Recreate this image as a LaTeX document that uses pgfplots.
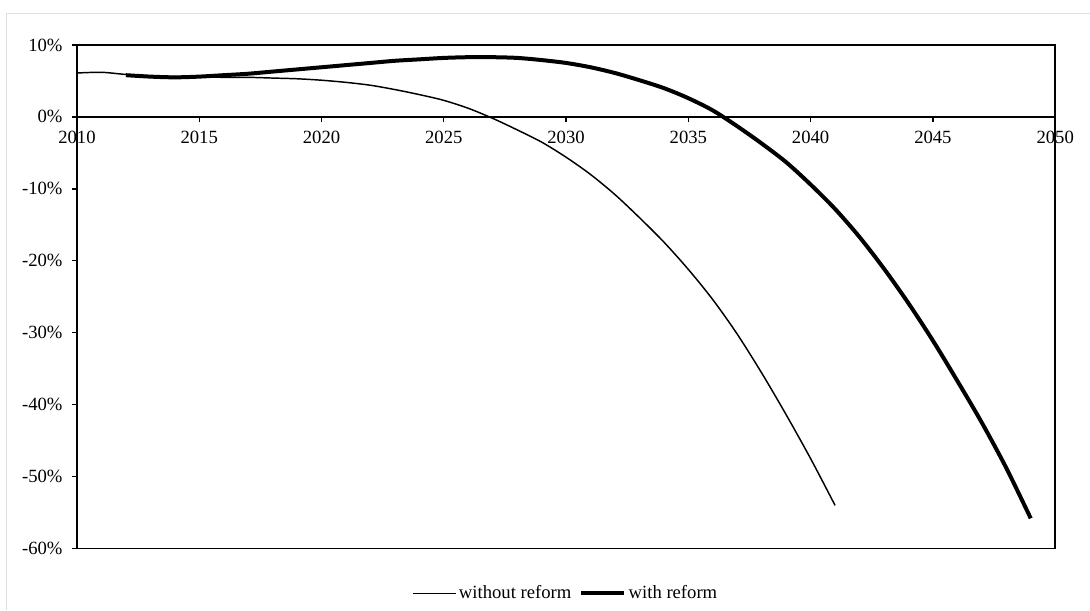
\documentclass[border=0pt]{standalone}
\usepackage{fontspec}
\setmainfont{Liberation Serif}
\usepackage{pgfplots}
\usetikzlibrary{calc}
\pgfplotsset{compat=1.18}
\begin{document}
\fontsize{14}{16}\selectfont
\begin{tikzpicture}
\begin{axis}[
  name=main,
  scale only axis, width=734.25pt, height=378pt,
  xmin=2010, xmax=2050, ymin=-60, ymax=10,
  axis line style={line width=1.2pt},
  xtick=\empty,
  ytick={-60,-50,...,10},
  yticklabels={-60\%,-50\%,-40\%,-30\%,-20\%,-10\%,0\%,10\%},
  ytick pos=left, ytick align=outside,
  major tick length=4pt,
  tick style={line width=1pt, black},
  yticklabel style={font=\fontsize{14}{16}\selectfont, xshift=-2pt},
  legend style={at={(0.5,-0.089)}, anchor=center, draw=none, fill=none,
    legend columns=2, font=\fontsize{14}{16}\selectfont,
    /tikz/every even column/.append style={column sep=4pt}},
  legend image code/.code={\draw[#1] (0pt,0pt) -- (32pt,0pt);},
  clip=false,
]
\addplot[black, line width=1.1pt, smooth] coordinates {
(2010,6.1) (2011,6.2) (2012,5.9) (2013,5.7) (2014,5.6) (2015,5.6) (2016,5.5)
(2017,5.5) (2018,5.4) (2019,5.3) (2020,5.1) (2021,4.8) (2022,4.4) (2023,3.8)
(2024,3.1) (2025,2.3) (2026,1.2) (2027,-0.2) (2028,-1.8) (2029,-3.5) (2030,-5.6)
(2031,-8.0) (2032,-10.8) (2033,-14.0) (2034,-17.4) (2035,-21.2) (2036,-25.4)
(2037,-30.2) (2038,-35.6) (2039,-41.4) (2040,-47.5) (2041,-54.0)
};
\addlegendentry{without reform}
\addplot[black, line width=3pt, smooth] coordinates {
(2012,5.8) (2013,5.6) (2014,5.5) (2015,5.6) (2016,5.8) (2017,6.0) (2018,6.3)
(2019,6.6) (2020,6.9) (2021,7.2) (2022,7.5) (2023,7.8) (2024,8.0) (2025,8.2)
(2026,8.3) (2027,8.3) (2028,8.2) (2029,7.9) (2030,7.5) (2031,6.9) (2032,6.1)
(2033,5.1) (2034,4.0) (2035,2.6) (2036,0.9) (2037,-1.3) (2038,-3.7) (2039,-6.3)
(2040,-9.4) (2041,-12.8) (2042,-16.7) (2043,-21.1) (2044,-25.9) (2045,-31.1)
(2046,-36.7) (2047,-42.5) (2048,-48.8) (2049,-55.8)
};
\addlegendentry{with reform}
\end{axis}
\begin{axis}[
  scale only axis, width=734.25pt, height=378pt,
  xmin=2010, xmax=2050, ymin=-60, ymax=10,
  axis x line=middle, axis y line=none,
  x axis line style={-, line width=1.2pt},
  xtick={2010,2015,...,2050},
  xticklabels={2010,2015,2020,2025,2030,2035,2040,2045,2050},
  xtick align=outside,
  major tick length=4pt,
  tick style={line width=1pt, black},
  xticklabel style={font=\fontsize{14}{16}\selectfont, yshift=-2pt},
]
\end{axis}
\draw[gray!25, line width=0.75pt] ($(main.south west)+(-52.5pt,-46pt)$) -- ($(main.south west)+(-52.5pt,401.25pt)$) -- ($(main.south west)+(760pt,401.25pt)$);
\useasboundingbox ($(main.south west)+(-57.75pt,-45.75pt)$) rectangle ($(main.south west)+(759.75pt,411.75pt)$);
\end{tikzpicture}
\end{document}
